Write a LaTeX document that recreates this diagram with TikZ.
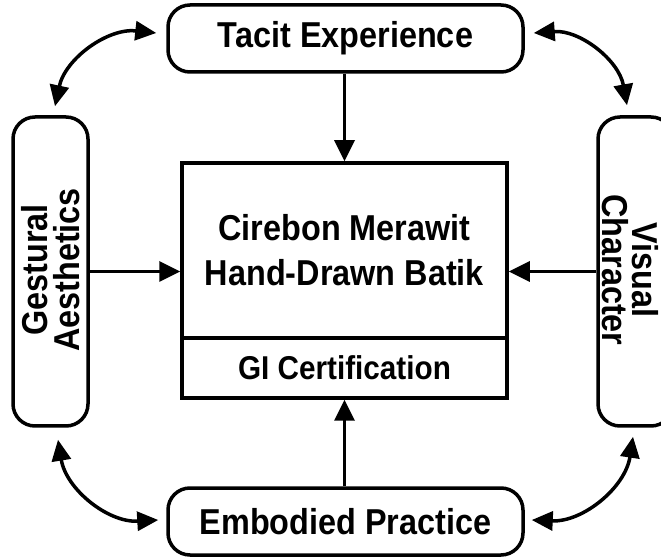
\documentclass[tikz,border=0pt]{standalone}
\usepackage{fontspec}
\newfontfamily\labfont{Liberation Sans}[FakeStretch=0.9]
\usetikzlibrary{arrows.meta}
\begin{document}
\begin{tikzpicture}[x=1pt,y=1pt,
  rbox/.style={draw, line width=3.5pt, rounded corners=22pt, inner sep=0pt, align=center,
    font=\labfont\bfseries\fontsize{36}{31}\selectfont},
  sbox/.style={draw, line width=3.5pt, inner sep=0pt, align=center,
    font=\labfont\bfseries\fontsize{36}{45}\selectfont},
  stext/.style={inner sep=0pt, font=\labfont\bfseries\fontsize{36}{30}\selectfont},
  arr/.style={line width=3.5pt, -{Triangle[length=21pt,width=20pt]}},
  dbl/.style={line width=3.5pt, {Triangle[length=21pt,width=19pt]}-{Triangle[length=21pt,width=19pt]}}
]
\useasboundingbox (0,0) rectangle (661,557);
\clip (0,0) rectangle (661,557);
\fill[white] (0,0) rectangle (661,557);

\node[rbox, minimum width=355pt, minimum height=67pt] (tacit) at (345.5,518.5) {Tacit Experience};
\node[rbox, minimum width=355pt, minimum height=67pt] (emb) at (345.5,35.5) {Embodied Practice};
\node[rbox, minimum width=75pt, minimum height=309pt] (gest) at (50.5,285.5) {};
\node[stext, rotate=90] (g1) at (34.5,287) {Gestural};
\node[stext, rotate=90] (g2) at (67,287) {Aesthetics};
\node[rbox, minimum width=75pt, minimum height=309pt] (vis) at (635.5,285.5) {};
\node[stext, rotate=-90] (v1) at (645.5,287) {Visual};
\node[stext, rotate=-90] (v2) at (615.5,287) {Character};
\node[sbox, minimum width=325pt, minimum height=175pt] (main) at (344.5,306.5)
  {Cirebon Merawit\\Hand-Drawn Batik};
\node[sbox, minimum width=325pt, minimum height=60pt, font=\labfont\bfseries\fontsize{33}{40}\selectfont] (gi) at (344.5,189)
  {GI Certification};

\draw[arr] (main.north |- tacit.south) -- (main.north);
\draw[arr] (gi.south |- emb.north) -- (gi.south);
\draw[arr] (gest.east) -- (gest.east -| main.west);
\draw[arr] (vis.west) -- (vis.west -| main.east);

\draw[dbl] ([shift={(-10,5.5)}]tacit.west) to[bend right=42] ([shift={(4.5,9)}]gest.north);
\draw[dbl] ([shift={(9,5.5)}]tacit.east) to[bend left=42] ([shift={(-8.5,10)}]vis.north);
\draw[dbl] ([shift={(7.5,-12)}]gest.south) to[bend right=42] ([shift={(-8,1.5)}]emb.west);
\draw[dbl] ([shift={(7,1.5)}]emb.east) to[bend right=42] ([shift={(-2.5,-9)}]vis.south);
\end{tikzpicture}
\end{document}
